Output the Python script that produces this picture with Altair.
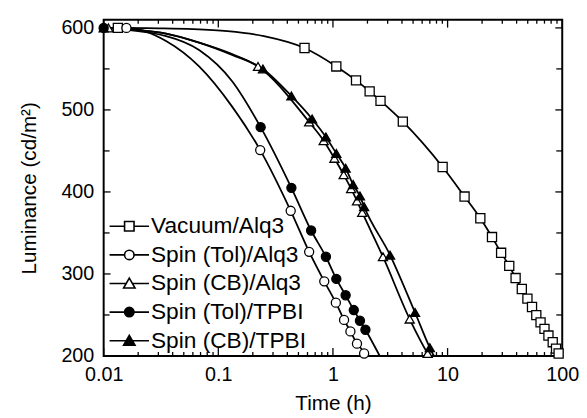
import altair as alt
import pandas as pd

FONT = "Liberation Sans"
W, H = 465, 341

series = ["Vacuum/Alq3", "Spin (Tol)/Alq3", "Spin (CB)/Alq3", "Spin (Tol)/TPBI", "Spin (CB)/TPBI"]

# ---- marker points ----
vac_t = [0.0133, 0.565, 1.07, 1.59, 2.09, 2.60, 4.07, 9.05, 14.06, 19.3, 24.4, 29.3, 34.5, 39.2,
         44.4, 49.7, 54.5, 59.4, 64.7, 70.0, 75.8, 82.6, 88.3, 93.0]
vac_L = [600, 575.5, 553, 536, 522.6, 511, 485.7, 430.4, 394.4, 367.9, 345, 325.8, 309.9, 295,
         281.7, 270, 259.7, 249.8, 240.9, 233, 224.9, 216.8, 209, 203]

tolalq_t = [0.0158, 0.232, 0.428, 0.62, 0.84, 1.06, 1.25, 1.42, 1.62, 1.87]
tolalq_L = [600, 451, 377, 327, 291, 265, 244, 230, 215, 203]

cbalq_t = [0.011, 0.222, 0.62, 0.83, 1.03, 1.24, 1.44, 1.62, 1.80, 2.73, 4.67, 6.7]
cbalq_L = [600, 553, 485.3, 462.5, 441, 421, 404, 389, 375, 321, 245, 203]

toltpbi_t = [0.01, 0.234, 0.434, 0.645, 0.868, 1.07, 1.29, 1.52, 1.72, 1.92]
toltpbi_L = [600, 479, 405, 353, 321, 294, 274, 256, 243, 232]

cbtpbi_t = [0.01, 0.245, 0.434, 0.658, 0.868, 1.07, 1.29, 1.50, 1.72, 1.87, 3.15, 5.2, 7.0]
cbtpbi_L = [600, 550, 517, 489, 467, 447, 429, 409, 395, 382, 323, 253, 210]

# ---- extra points on the drawn curves (no markers) ----
vac_curve_t = [0.01, 0.03, 0.06, 0.12, 0.25, 96.0]
vac_curve_L = [600, 599.5, 598.5, 596, 590, 200]
tolalq_curve_t = [0.01, 0.035, 0.068, 0.132, 1.9]
tolalq_curve_L = [600, 584, 553, 504, 200]
cbalq_curve_t = [0.035, 0.068, 0.132, 6.9]
cbalq_curve_L = [593, 582, 568, 200]
toltpbi_curve_t = [0.035, 0.068, 0.132, 2.56]
toltpbi_curve_L = [590, 573, 535, 200]
cbtpbi_curve_t = [0.035, 0.068, 0.132, 7.6]
cbtpbi_curve_L = [593, 582, 567, 200]

x_major = [0.01, 0.1, 1, 10, 100]
x_minor = [m * d for d in [0.01, 0.1, 1, 10] for m in range(2, 10)]
y_major = [200, 300, 400, 500, 600]
y_minor = [250, 350, 450, 550]

markers = [(vac_t, vac_L), (tolalq_t, tolalq_L), (cbalq_t, cbalq_L), (toltpbi_t, toltpbi_L), (cbtpbi_t, cbtpbi_L)]
curves = [(vac_curve_t, vac_curve_L), (tolalq_curve_t, tolalq_curve_L), (cbalq_curve_t, cbalq_curve_L),
          (toltpbi_curve_t, toltpbi_curve_L), (cbtpbi_curve_t, cbtpbi_curve_L)]

pt_rows, line_rows = [], []
for i, s in enumerate(series):
    mt, mL = markers[i]
    ct, cL = curves[i]
    for t, L in zip(mt, mL):
        pt_rows.append({"series": s, "order": i, "t": t, "L": L})
        line_rows.append({"series": s, "t": t, "L": L})
    for t, L in zip(ct, cL):
        line_rows.append({"series": s, "t": t, "L": L})
pts = pd.DataFrame(pt_rows)
lines = pd.DataFrame(line_rows).sort_values(["series", "t"])

xscale = alt.Scale(type="log", domain=[0.01, 100], nice=False)
yscale = alt.Scale(domain=[200, 610], nice=False, zero=False)
x_axis = alt.Axis(values=x_major, format="~g", title="Time (h)", labelPadding=9, titlePadding=8,
                  labelFlush=False)
y_axis = alt.Axis(values=y_major, title="Luminance (cd/m²)", labelPadding=10, titlePadding=22,
                  labelFlush=False)

X = alt.X("t:Q", scale=xscale, axis=x_axis)
Y = alt.Y("L:Q", scale=yscale, axis=y_axis)

line_layer = alt.Chart(lines).mark_line(color="black", strokeWidth=1.8, interpolate="monotone").encode(
    x=X, y=Y, detail="series:N"
)

shape_range = ["square", "circle", "triangle-up", "circle", "triangle-up"]
fill_range = ["white", "white", "white", "black", "black"]
stroke_range = ["black", "black", "black", "black", "black"]
size_range = [85, 85, 130, 85, 130]

point_layer = alt.Chart(pts).mark_point(filled=True, stroke="black", strokeWidth=1.3, opacity=1).encode(
    x=X, y=Y,
    shape=alt.Shape("series:N", scale=alt.Scale(domain=series, range=shape_range), legend=None),
    fill=alt.Fill("series:N", scale=alt.Scale(domain=series, range=fill_range), legend=None),
    size=alt.Size("series:N", scale=alt.Scale(domain=series, range=size_range), legend=None),
    order=alt.Order("order:Q"),
)

sq = "M-1,0H-0.24M0.24,0H1M-0.24,-0.24H0.24V0.24H-0.24Z"
ci = "M-1,0H-0.24M0.24,0H1M-0.24,0A0.24,0.24,0,1,0,0.24,0A0.24,0.24,0,1,0,-0.24,0Z"
tr = "M-1,0H-0.157M0.157,0H1M0,-0.27L0.29,0.23L-0.29,0.23Z"
legend_shapes = [sq, ci, tr, ci, tr]

leg = alt.Legend(orient="none", legendX=5, legendY=196, title=None, labelFont=FONT, labelFontSize=23,
                 labelColor="black", symbolSize=1600, symbolStrokeWidth=1.6, symbolStrokeColor="black",
                 symbolOpacity=1, clipHeight=27, rowPadding=2, labelOffset=1, padding=0)

legend_layer = alt.Chart(pd.DataFrame({"series": series})).mark_point(
    filled=False, color="black", strokeWidth=1.6, opacity=1, clip=True
).encode(
    x=alt.value(-400), y=alt.value(-400),
    shape=alt.Shape("series:N", scale=alt.Scale(domain=series, range=legend_shapes), legend=leg),
    fill=alt.Fill("series:N", scale=alt.Scale(domain=series, range=fill_range), legend=leg),
    stroke=alt.Stroke("series:N", scale=alt.Scale(domain=series, range=stroke_range), legend=leg),
)

xmaj = pd.DataFrame({"t": x_major})
xmin = pd.DataFrame({"t": x_minor})
ymaj = pd.DataFrame({"L": y_major})
ymin = pd.DataFrame({"L": y_minor})

def xticks(df, length):
    b = alt.Chart(df).mark_tick(color="black", orient="vertical", size=length, thickness=1.3, opacity=1).encode(
        x=X, y=alt.value(H - length / 2))
    t = alt.Chart(df).mark_tick(color="black", orient="vertical", size=length, thickness=1.3, opacity=1).encode(
        x=X, y=alt.value(length / 2))
    return [b, t]

def yticks(df, length):
    l = alt.Chart(df).mark_tick(color="black", orient="horizontal", size=length, thickness=1.3, opacity=1).encode(
        y=Y, x=alt.value(length / 2))
    r = alt.Chart(df).mark_tick(color="black", orient="horizontal", size=length, thickness=1.3, opacity=1).encode(
        y=Y, x=alt.value(W - length / 2))
    return [l, r]

tick_layers = xticks(xmaj, 8) + xticks(xmin, 4) + yticks(ymaj, 7) + yticks(ymin, 6)

chart = alt.layer(
    *tick_layers, line_layer, point_layer, legend_layer
).resolve_scale(
    shape="independent", fill="independent", stroke="independent"
).properties(
    width=W, height=H, padding={"left": 10, "top": 7, "right": 0, "bottom": 0}
).configure_view(
    stroke="black", strokeWidth=2
).configure_axis(
    grid=False, ticks=False, tickSize=0, domain=False,
    labelFont=FONT, labelFontSize=20, labelColor="black",
    titleFont=FONT, titleFontSize=21, titleFontWeight="normal", titleColor="black",
)

chart.save("out.html", embed_options={"renderer": "svg", "actions": False})
